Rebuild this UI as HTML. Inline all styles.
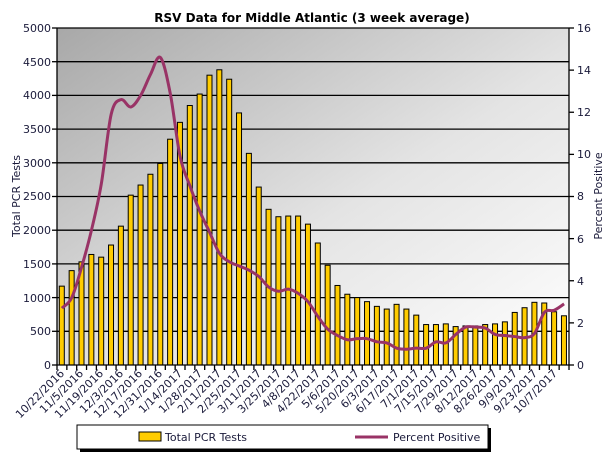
<!DOCTYPE html>
<html><head><meta charset="utf-8"><style>
body{margin:0;background:#fff;width:616px;height:462px;overflow:hidden}
svg text{font-family:"DejaVu Sans","Liberation Sans",sans-serif;fill:#1a1a3a}
</style></head><body>
<svg id="s" width="616" height="462" xmlns="http://www.w3.org/2000/svg">
<defs><linearGradient id="g" x1="0" y1="0" x2="1" y2="1">
<stop offset="0" stop-color="#a8a8a8"/><stop offset="0.55" stop-color="#e4e4e4"/><stop offset="1" stop-color="#ffffff"/></linearGradient></defs>
<text x="312" y="22" text-anchor="middle" font-size="12" font-weight="bold" style="fill:#000">RSV Data for Middle Atlantic (3 week average)</text>
<rect x="57" y="28" width="512" height="337" fill="url(#g)"/>
<g id="grid" stroke="#000" stroke-width="1.3"></g>
<g id="bars"></g>
<path id="line" fill="none" stroke="#993366" stroke-width="3" stroke-linejoin="round"/>
<g id="axes" stroke="#000" stroke-width="1.3"></g>
<g font-size="11" text-anchor="end">
<text x="51" y="32">5000</text><text x="51" y="66">4500</text><text x="51" y="99">4000</text><text x="51" y="133">3500</text><text x="51" y="167">3000</text><text x="51" y="200">2500</text><text x="51" y="234">2000</text><text x="51" y="268">1500</text><text x="51" y="302">1000</text><text x="51" y="335">500</text><text x="51" y="369">0</text>
</g>
<g font-size="11" text-anchor="start">
<text x="577" y="32">16</text><text x="577" y="74">14</text><text x="577" y="116">12</text><text x="577" y="158">10</text><text x="577" y="200">8</text><text x="577" y="243">6</text><text x="577" y="285">4</text><text x="577" y="327">2</text><text x="577" y="369">0</text>
</g>
<text transform="translate(20,196) rotate(-90)" text-anchor="middle" font-size="11">Total PCR Tests</text>
<text transform="translate(602,196) rotate(-90)" text-anchor="middle" font-size="11">Percent Positive</text>
<g font-size="11" text-anchor="end" id="xl">
<text transform="translate(65,374) rotate(-45)">10/22/2016</text>
<text transform="translate(84,374) rotate(-45)">11/5/2016</text>
<text transform="translate(104,374) rotate(-45)">11/19/2016</text>
<text transform="translate(124,374) rotate(-45)">12/3/2016</text>
<text transform="translate(143,374) rotate(-45)">12/17/2016</text>
<text transform="translate(163,374) rotate(-45)">12/31/2016</text>
<text transform="translate(183,374) rotate(-45)">1/14/2017</text>
<text transform="translate(203,374) rotate(-45)">1/28/2017</text>
<text transform="translate(222,374) rotate(-45)">2/11/2017</text>
<text transform="translate(242,374) rotate(-45)">2/25/2017</text>
<text transform="translate(262,374) rotate(-45)">3/11/2017</text>
<text transform="translate(282,374) rotate(-45)">3/25/2017</text>
<text transform="translate(301,374) rotate(-45)">4/8/2017</text>
<text transform="translate(321,374) rotate(-45)">4/22/2017</text>
<text transform="translate(341,374) rotate(-45)">5/6/2017</text>
<text transform="translate(360,374) rotate(-45)">5/20/2017</text>
<text transform="translate(380,374) rotate(-45)">6/3/2017</text>
<text transform="translate(400,374) rotate(-45)">6/17/2017</text>
<text transform="translate(420,374) rotate(-45)">7/1/2017</text>
<text transform="translate(439,374) rotate(-45)">7/15/2017</text>
<text transform="translate(459,374) rotate(-45)">7/29/2017</text>
<text transform="translate(479,374) rotate(-45)">8/12/2017</text>
<text transform="translate(498,374) rotate(-45)">8/26/2017</text>
<text transform="translate(518,374) rotate(-45)">9/9/2017</text>
<text transform="translate(538,374) rotate(-45)">9/23/2017</text>
<text transform="translate(558,374) rotate(-45)">10/7/2017</text>
</g>
<rect x="80" y="428" width="411" height="24" fill="#000"/>
<rect x="77" y="425" width="411" height="24" fill="#fff" stroke="#000" stroke-width="1"/>
<rect x="139" y="432" width="22" height="9" fill="#ffcc00" stroke="#000"/>
<text x="165" y="441" font-size="11">Total PCR Tests</text>
<line x1="355" y1="437" x2="388" y2="437" stroke="#993366" stroke-width="3"/>
<text x="393" y="441" font-size="11">Percent Positive</text>
</svg>
<script>
var bars=[1170,1400,1530,1640,1600,1780,2060,2520,2670,2830,2990,3350,3600,3850,4020,4300,4380,4240,3740,3140,2640,2310,2200,2210,2210,2090,1810,1480,1180,1050,1000,940,870,830,900,830,740,600,600,610,570,580,580,600,610,640,780,850,930,920,790,730];
var pct=[2.7,3.2,4.65,6.4,8.6,11.9,12.6,12.25,12.8,13.8,14.6,12.9,9.9,8.5,7.3,6.3,5.3,4.9,4.7,4.5,4.2,3.7,3.5,3.6,3.4,3.0,2.3,1.7,1.4,1.2,1.25,1.25,1.1,1.05,0.8,0.75,0.8,0.8,1.1,1.05,1.45,1.8,1.8,1.75,1.45,1.4,1.35,1.3,1.5,1.8,2.5,2.6,2.9];
pct.splice(49,1);
var ns="http://www.w3.org/2000/svg",L=57,T=28,B=365,W=512,N=52,cw=W/N;
function el(p,t,a){var e=document.createElementNS(ns,t);for(var k in a)e.setAttribute(k,a[k]);p.appendChild(e);return e;}
var g=document.getElementById('grid'),b=document.getElementById('bars'),ax=document.getElementById('axes');
for(var v=500;v<=5000;v+=500){var y=B-v/5000*337;el(g,'line',{x1:L,x2:L+W,y1:y,y2:y});}
for(var i=0;i<N;i++){var h=bars[i]/5000*337;el(b,'rect',{x:L+i*cw+2.3,y:B-h,width:5,height:h,fill:'#ffcc00',stroke:'#000','stroke-width':1});}
var P=[];for(var i=0;i<N;i++){P.push([L+(i+0.5)*cw,B-pct[i]/16*337]);}
var d='M'+P[0][0]+','+P[0][1];
for(var i=0;i<N-1;i++){var p0=P[Math.max(0,i-1)],p1=P[i],p2=P[i+1],p3=P[Math.min(N-1,i+2)],t=6;
d+=' C'+(p1[0]+(p2[0]-p0[0])/t)+','+(p1[1]+(p2[1]-p0[1])/t)+' '+(p2[0]-(p3[0]-p1[0])/t)+','+(p2[1]-(p3[1]-p1[1])/t)+' '+p2[0]+','+p2[1];}
document.getElementById('line').setAttribute('d',d);
el(ax,'line',{x1:L,x2:L,y1:T,y2:B});el(ax,'line',{x1:L+W,x2:L+W,y1:T,y2:B});el(ax,'line',{x1:L,x2:L+W,y1:B,y2:B});
for(var v=0;v<=5000;v+=500){var y=B-v/5000*337;el(ax,'line',{x1:L-5,x2:L,y1:y,y2:y});}
for(var v=0;v<=16;v+=2){var y=B-v/16*337;el(ax,'line',{x1:L+W,x2:L+W+5,y1:y,y2:y});}
for(var i=0;i<=N;i++){var x=L+i*cw;el(ax,'line',{x1:x,x2:x,y1:B,y2:B+5});}
</script>
</body></html>
